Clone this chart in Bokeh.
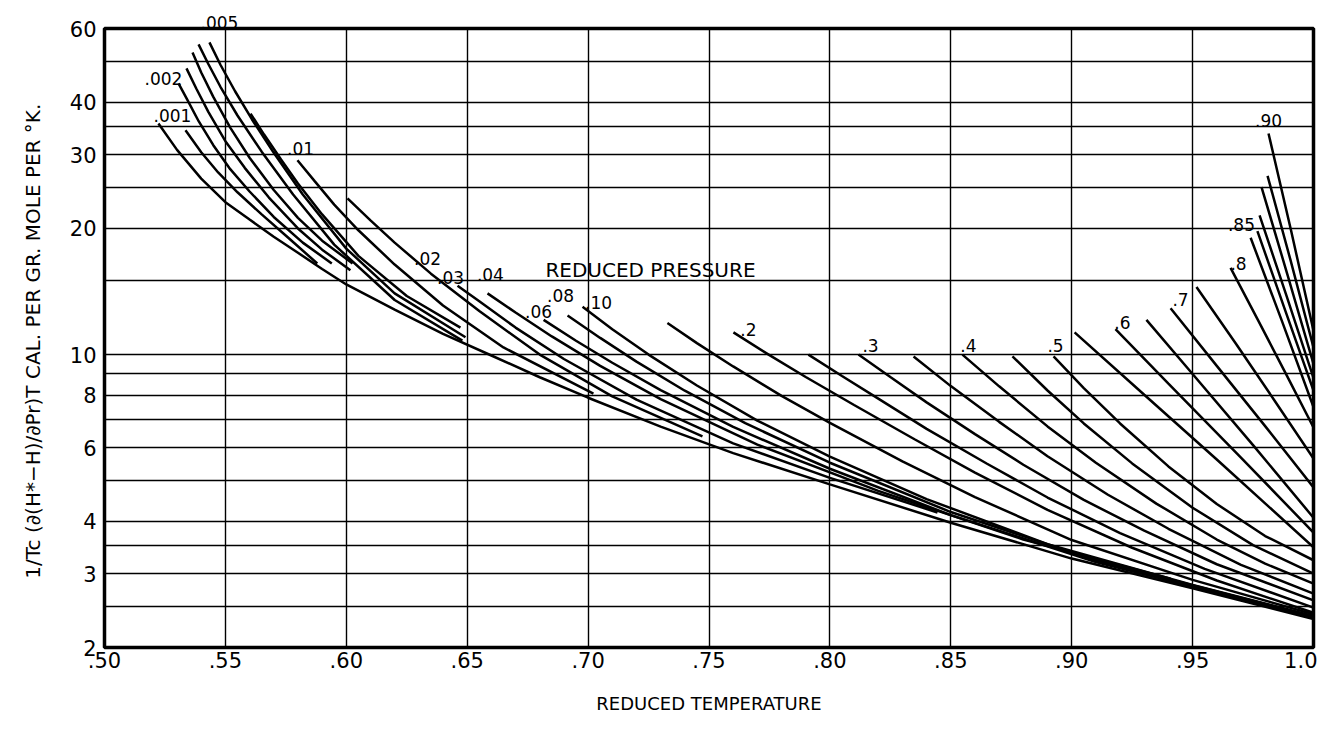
from bokeh.plotting import figure
from bokeh.models import FixedTicker, Label, Title, CustomJSTickFormatter
from bokeh.embed import file_html
from bokeh.resources import INLINE

# ---- reduced-pressure curves: reduced temperature (x) and value (y) ----
tr_p001 = [0.5223, 0.53, 0.54, 0.55, 0.56, 0.57, 0.58, 0.59, 0.60, 0.62, 0.64, 0.66, 0.68, 0.70, 0.73, 0.76, 0.80, 0.85, 0.90, 0.95, 1.0]
v_p001 = [35.6, 30.8, 26.3, 23.1, 21.0, 19.1, 17.5, 16.0, 14.7, 12.8, 11.2, 9.95, 8.83, 7.89, 6.73, 5.82, 4.90, 3.97, 3.26, 2.77, 2.34]
tr_p0015 = [0.5335, 0.54, 0.547, 0.555, 0.565, 0.576, 0.588]
v_p0015 = [34.3, 30.4, 27.2, 24.4, 21.6, 19.0, 16.5]
tr_p002 = [0.5306, 0.534, 0.539, 0.545, 0.552, 0.56, 0.57, 0.582, 0.594]
v_p002 = [44.4, 40.8, 36.0, 31.6, 27.7, 24.5, 21.3, 18.5, 16.5]
tr_p003 = [0.5339, 0.538, 0.543, 0.55, 0.558, 0.568, 0.58, 0.59, 0.6017]
v_p003 = [48.2, 43.1, 37.9, 32.3, 27.9, 23.7, 20.0, 17.8, 15.9]
tr_p004 = [0.5364, 0.54, 0.545, 0.552, 0.56, 0.57, 0.58, 0.59, 0.6026]
v_p004 = [52.6, 47.1, 41.2, 34.8, 29.5, 24.7, 21.2, 18.7, 16.5]
tr_p0045 = [0.5389, 0.543, 0.548, 0.555, 0.565, 0.578, 0.595, 0.62, 0.648]
v_p0045 = [55.0, 49.3, 43.5, 37.2, 30.5, 24.1, 18.3, 13.5, 10.8]
tr_p005 = [0.5434, 0.548, 0.554, 0.561, 0.57, 0.582, 0.60, 0.62, 0.6493]
v_p005 = [55.6, 49.1, 42.5, 36.4, 30.3, 24.1, 17.9, 14.0, 11.0]
tr_p0075 = [0.5604, 0.566, 0.573, 0.58, 0.59, 0.605, 0.625, 0.6472]
v_p0075 = [37.6, 33.5, 29.2, 25.6, 21.6, 17.2, 13.8, 11.6]
tr_p01 = [0.5798, 0.587, 0.595, 0.605, 0.62, 0.64, 0.665, 0.7022]
v_p01 = [29.1, 25.9, 22.8, 19.8, 16.4, 13.1, 10.4, 8.07]
tr_p02 = [0.6005, 0.61, 0.62, 0.635, 0.655, 0.68, 0.71, 0.7473]
v_p02 = [23.6, 20.9, 18.5, 15.6, 12.7, 10.0, 7.95, 6.38]
tr_p03 = [0.646, 0.655, 0.67, 0.69, 0.72, 0.76, 0.80, 0.8445]
v_p03 = [14.6, 13.4, 11.6, 9.76, 7.81, 6.14, 5.08, 4.20]
tr_p04 = [0.6584, 0.67, 0.685, 0.705, 0.73, 0.77, 0.82, 0.88, 0.9409]
v_p04 = [14.0, 12.6, 11.05, 9.40, 7.83, 6.10, 4.73, 3.62, 2.92]
tr_p06 = [0.6816, 0.695, 0.71, 0.73, 0.76, 0.80, 0.85, 0.91, 1.0]
v_p06 = [12.1, 10.79, 9.56, 8.23, 6.72, 5.34, 4.14, 3.20, 2.36]
tr_p08 = [0.6915, 0.705, 0.72, 0.74, 0.765, 0.80, 0.85, 0.91, 1.0]
v_p08 = [12.4, 10.96, 9.62, 8.20, 6.86, 5.52, 4.21, 3.23, 2.37]
tr_p10 = [0.6977, 0.71, 0.725, 0.745, 0.77, 0.80, 0.84, 0.89, 0.95, 1.0]
v_p10 = [13.0, 11.5, 10.0, 8.44, 6.96, 5.71, 4.52, 3.53, 2.82, 2.38]
tr_p15 = [0.7328, 0.745, 0.76, 0.78, 0.80, 0.83, 0.86, 0.90, 0.95, 1.0]
v_p15 = [11.9, 10.65, 9.37, 7.97, 6.87, 5.56, 4.57, 3.61, 2.90, 2.40]
tr_p20 = [0.7601, 0.775, 0.79, 0.81, 0.835, 0.86, 0.89, 0.925, 0.96, 1.0]
v_p20 = [11.3, 9.97, 8.84, 7.58, 6.28, 5.23, 4.26, 3.46, 2.89, 2.42]
tr_p25 = [0.7911, 0.805, 0.82, 0.84, 0.865, 0.89, 0.92, 0.955, 1.0]
v_p25 = [10.0, 8.89, 7.85, 6.65, 5.49, 4.56, 3.75, 3.08, 2.49]
tr_p30 = [0.8118, 0.825, 0.84, 0.86, 0.88, 0.905, 0.93, 0.96, 1.0]
v_p30 = [10.0, 8.84, 7.69, 6.46, 5.46, 4.50, 3.80, 3.16, 2.59]
tr_p35 = [0.8346, 0.85, 0.87, 0.89, 0.915, 0.94, 0.97, 1.0]
v_p35 = [9.9, 8.41, 6.91, 5.72, 4.63, 3.84, 3.15, 2.69]
tr_p40 = [0.8548, 0.87, 0.89, 0.91, 0.935, 0.96, 0.98, 1.0]
v_p40 = [10.0, 8.40, 6.74, 5.52, 4.41, 3.62, 3.17, 2.84]
tr_p45 = [0.8755, 0.89, 0.905, 0.925, 0.95, 0.975, 1.0]
v_p45 = [9.9, 8.21, 6.85, 5.50, 4.31, 3.51, 3.0]
tr_p50 = [0.8925, 0.905, 0.92, 0.94, 0.96, 0.98, 1.0]
v_p50 = [9.9, 8.32, 6.85, 5.41, 4.40, 3.69, 3.23]
tr_p55 = [0.9012, 0.93, 0.96, 1.0]
v_p55 = [11.3, 8.02, 5.62, 3.47]
tr_p60 = [0.9181, 0.94, 0.97, 1.0]
v_p60 = [11.5, 8.52, 5.68, 3.76]
tr_p65 = [0.9309, 0.95, 0.975, 1.0]
v_p65 = [12.1, 8.99, 6.08, 4.08]
tr_p70 = [0.9409, 0.96, 0.98, 1.0]
v_p70 = [12.9, 9.40, 6.75, 4.82]
tr_p75 = [0.9516, 0.968, 0.984, 1.0]
v_p75 = [14.5, 10.6, 7.75, 5.65]
tr_p80 = [0.9657, 0.977, 0.9885, 1.0]
v_p80 = [16.1, 12.1, 9.02, 6.7]
tr_p82 = [0.974, 0.987, 1.0]
v_p82 = [19.0, 12.0, 7.5]
tr_p84 = [0.9768, 0.9884, 1.0]
v_p84 = [19.7, 12.7, 8.2]
tr_p85 = [0.9777, 0.98885, 1.0]
v_p85 = [21.5, 13.8, 8.8]
tr_p86 = [0.9785, 0.98925, 1.0]
v_p86 = [25.1, 15.5, 9.5]
tr_p88 = [0.981, 0.9905, 1.0]
v_p88 = [26.7, 16.8, 10.4]
tr_p90 = [0.9814, 0.9907, 1.0]
v_p90 = [33.7, 19.8, 11.4]

# ---- curve labels (inside the frame) ----
label_text = [".001", ".002", ".01", ".02", ".03", ".04", "REDUCED PRESSURE",
              ".06", ".08", ".10", ".2", ".3", ".4", ".5", ".6", ".7", ".8", ".85", ".90"]
label_x = [0.5281, 0.5244, 0.5811, 0.6336, 0.6431, 0.6596, 0.7258,
           0.6795, 0.6886, 0.7043, 0.7663, 0.8168, 0.8573, 0.8933, 0.921, 0.945, 0.969, 0.9702, 0.9814]
label_y = [37.2, 45.6, 31.0, 17.0, 15.3, 15.5, 15.9,
           12.7, 13.8, 13.3, 11.5, 10.5, 10.5, 10.5, 11.9, 13.5, 16.5, 20.4, 36.2]
top_label = ".005"   # sits just above the frame

# ---- axes ----
x_ticks = [0.50, 0.55, 0.60, 0.65, 0.70, 0.75, 0.80, 0.85, 0.90, 0.95, 1.0]
y_ticks = [2, 3, 4, 6, 8, 10, 20, 30, 40, 60]
y_grid = [2, 2.5, 3, 3.5, 4, 5, 6, 7, 8, 9, 10, 15, 20, 25, 30, 35, 40, 50, 60]

curves = [
    (tr_p001, v_p001), (tr_p0015, v_p0015), (tr_p002, v_p002), (tr_p003, v_p003),
    (tr_p004, v_p004), (tr_p0045, v_p0045), (tr_p005, v_p005), (tr_p0075, v_p0075),
    (tr_p01, v_p01), (tr_p02, v_p02), (tr_p03, v_p03), (tr_p04, v_p04),
    (tr_p06, v_p06), (tr_p08, v_p08), (tr_p10, v_p10), (tr_p15, v_p15),
    (tr_p20, v_p20), (tr_p25, v_p25), (tr_p30, v_p30), (tr_p35, v_p35),
    (tr_p40, v_p40), (tr_p45, v_p45), (tr_p50, v_p50), (tr_p55, v_p55),
    (tr_p60, v_p60), (tr_p65, v_p65), (tr_p70, v_p70), (tr_p75, v_p75),
    (tr_p80, v_p80), (tr_p82, v_p82), (tr_p84, v_p84), (tr_p85, v_p85),
    (tr_p86, v_p86), (tr_p88, v_p88), (tr_p90, v_p90),
]

FONT = "DejaVu Sans"

p = figure(width=1317, height=722, x_range=(0.5, 1.0), y_range=(2, 60),
           y_axis_type="log", output_backend="svg", toolbar_location=None,
           min_border_left=104, min_border_top=28, min_border_right=4, min_border_bottom=75)

p.background_fill_color = "white"
p.border_fill_color = "white"
p.outline_line_color = "black"
p.outline_line_width = 3.5

p.xaxis.ticker = FixedTicker(ticks=x_ticks)
p.xaxis.formatter = CustomJSTickFormatter(code="return tick > 0.999 ? '1.0' : '.' + Math.round(tick*100);")
p.yaxis.ticker = FixedTicker(ticks=y_ticks)
p.yaxis.formatter = CustomJSTickFormatter(code="return String(Math.round(tick));")
p.xgrid.ticker = FixedTicker(ticks=x_ticks)
p.ygrid.ticker = FixedTicker(ticks=y_grid)
for g in (p.xgrid, p.ygrid):
    g.grid_line_color = "black"
    g.grid_line_width = 1.4
    g.grid_line_alpha = 1.0

for ax in (p.xaxis, p.yaxis):
    ax.axis_line_color = None
    ax.major_tick_line_color = None
    ax.minor_tick_line_color = None
    ax.major_tick_out = 0
    ax.major_tick_in = 0
    ax.major_label_text_font = FONT
    ax.major_label_text_font_size = "21px"
    ax.major_label_text_color = "black"
    ax.axis_label_text_font = FONT
    ax.axis_label_text_font_style = "normal"
    ax.axis_label_text_color = "black"

p.xaxis.major_label_standoff = 4
p.xaxis.axis_label = "REDUCED TEMPERATURE"
p.xaxis.axis_label_text_font_size = "18px"
p.xaxis.axis_label_standoff = 22

p.yaxis.major_label_standoff = 8
p.yaxis.axis_label = "1/Tc (\u2202(H*\u2212H)/\u2202Pr)T  CAL. PER GR. MOLE PER \u00b0K."
p.yaxis.axis_label_text_font_size = "20px"
p.yaxis.axis_label_standoff = 22

for tr, v in curves:
    p.line(tr, v, line_color="black", line_width=2.5)

for t, x, y in zip(label_text, label_x, label_y):
    p.add_layout(Label(x=x, y=y, text=t, text_font=FONT,
                       text_font_size="20px" if t == "REDUCED PRESSURE" else "17px",
                       text_align="center", text_baseline="middle", text_color="black"))

p.add_layout(Title(text=top_label, align="left", offset=96, standoff=0,
                   text_font=FONT, text_font_size="17px", text_font_style="normal",
                   text_color="black"), "above")

open("out.html", "w").write(file_html(p, INLINE))
